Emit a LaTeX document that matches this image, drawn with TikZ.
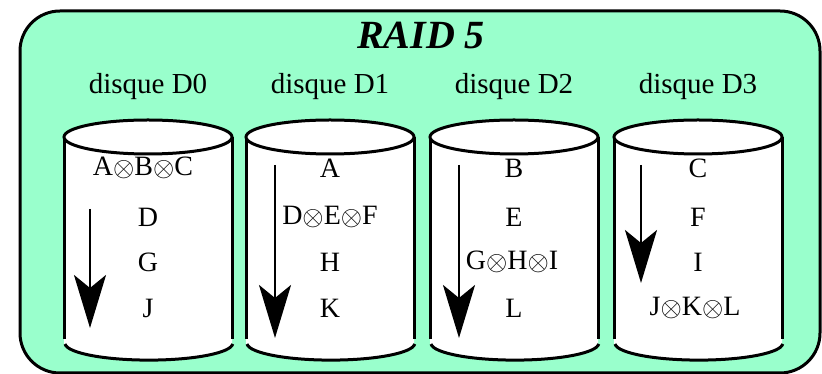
\documentclass[tikz,border=0pt]{standalone}
\usepackage{fontspec}
\usepackage{graphicx}
\setmainfont{Liberation Serif}
\usetikzlibrary{arrows.meta}
\definecolor{mint}{RGB}{153,255,204}
\newcommand{\ox}{\raisebox{-1.5pt}{\scalebox{1.1}{$\otimes$}}}
\tikzset{
  outerbox/.style={draw=black, line width=3pt, fill=mint, rounded corners=40pt},
  disklabel/.style={font=\fontsize{29}{32}\selectfont, inner sep=0pt},
  block/.style={font=\fontsize{28}{30}\selectfont, inner sep=0pt},
  cylline/.style={line width=3pt, draw=black},
  seqarrow/.style={line width=2.5pt, -{Stealth[length=53pt, width=32pt, inset=13pt]}},
}
\begin{document}
\begin{tikzpicture}[x=1pt,y=1pt]
\useasboundingbox (0,0) rectangle (822,374);
\draw[outerbox] (20,1) rectangle (820,363);
\node[font=\fontsize{40}{44}\selectfont\bfseries\itshape, inner sep=0pt] (title) at (421,339) {RAID 5};
\foreach \i/\cx in {0/148,1/330,2/514,3/698}{
  \node[disklabel] (lab\i) at (\cx,287) {disque D\i};
  \fill[white] (\cx-84,237) -- (\cx-84,31) arc[start angle=180,end angle=360,x radius=84,y radius=17] -- (\cx+84,237) -- cycle;
  \draw[cylline] (\cx-84,237) -- (\cx-84,35);
  \draw[cylline] (\cx+84,237) -- (\cx+84,35);
  \draw[cylline] (\cx-83,30) arc[start angle=183,end angle=357,x radius=84,y radius=17];
  \draw[cylline, fill=white] (\cx,237) ellipse[x radius=84, y radius=17];
}
\node[block] (a0) at (143,206) {A\ox B\ox C};
\node[block] (a1) at (148,157) {D};
\node[block] (a2) at (148,112) {G};
\node[block] (a3) at (148,66) {J};
\node[block] (b0) at (330,206) {A};
\node[block] (b1) at (330,157) {D\ox E\ox F};
\node[block] (b2) at (330,112) {H};
\node[block] (b3) at (330,66) {K};
\node[block] (c0) at (514,206) {B};
\node[block] (c1) at (514,157) {E};
\node[block] (c2) at (512,112) {G\ox H\ox I};
\node[block] (c3) at (514,66) {L};
\node[block] (d0) at (698,206) {C};
\node[block] (d1) at (698,157) {F};
\node[block] (d2) at (698,112) {I};
\node[block] (d3) at (695,66) {J\ox K\ox L};
\coordinate (s0) at (90,165); \coordinate (e0) at (90,46);
\coordinate (s1) at (275,209); \coordinate (e1) at (275,36);
\coordinate (s2) at (459,209); \coordinate (e2) at (459,36);
\coordinate (s3) at (641,209); \coordinate (e3) at (641,91);
\foreach \k in {0,1,2,3}{ \draw[seqarrow] (s\k) -- (e\k); }
\end{tikzpicture}
\end{document}
